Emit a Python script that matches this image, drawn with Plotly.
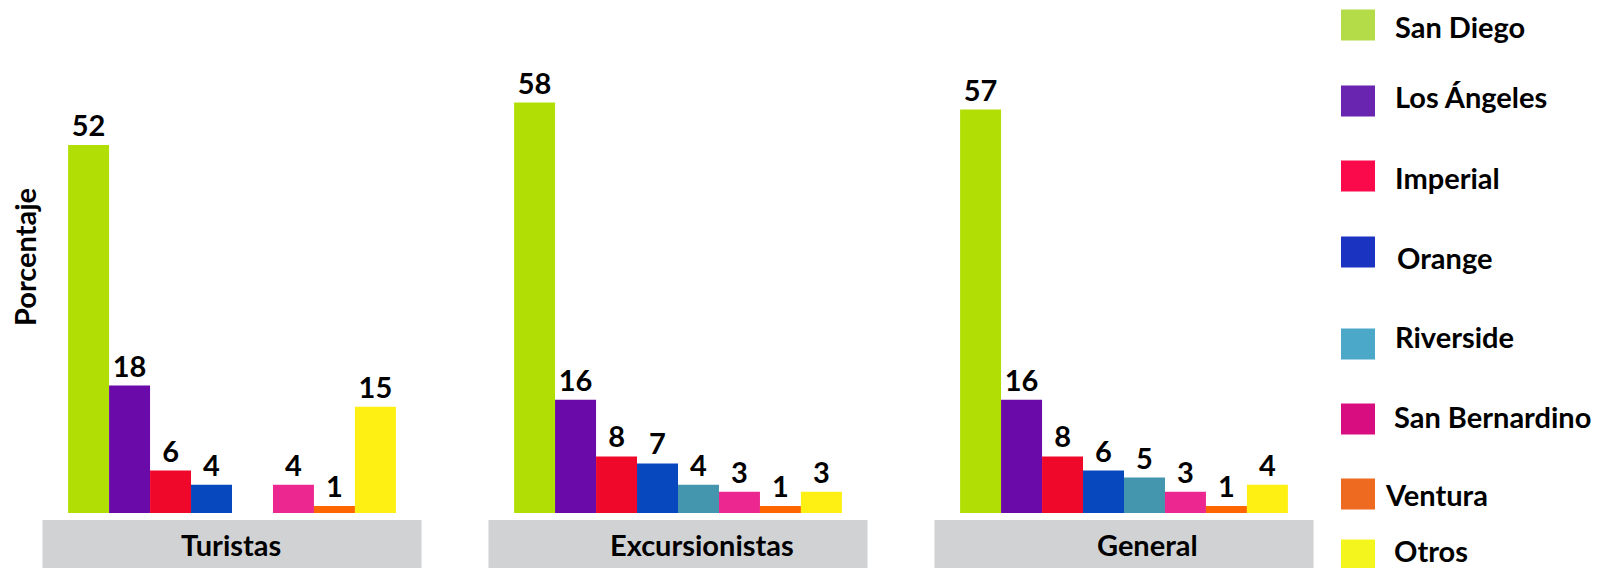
import plotly.graph_objects as go

# ---------------- data ----------------
groups = ['Turistas', 'Excursionistas', 'General']
counties = ['San Diego', 'Los Ángeles', 'Imperial', 'Orange',
            'Riverside', 'San Bernardino', 'Ventura', 'Otros']

san_diego = [52, 58, 57]
los_angeles = [18, 16, 16]
imperial = [6, 8, 8]
orange = [4, 7, 6]
riverside = [None, 4, 5]
san_bernardino = [4, 3, 3]
ventura = [1, 1, 1]
otros = [15, 3, 4]

values = [san_diego, los_angeles, imperial, orange,
          riverside, san_bernardino, ventura, otros]

bar_colors = ['#B1DF05', '#6A0AA8', '#F0082A', '#0748BF',
              '#4396AD', '#EC2890', '#FF6600', '#FFF014']
legend_colors = ['#B3DC48', '#6A25B0', '#FA0A4A', '#1A33C0',
                 '#4BA8C8', '#D80E80', '#EE6A20', '#F5F51E']

FONT = 'Lato'
FS = 29

# ---------------- layout geometry ----------------
# the page body has an 8px margin, so the figure starts at (8, 8)
OFF = 8
W, H = 1600, 560
M_L, M_R, M_T, M_B = 1, 261, 45, 55
PW = W - M_L - M_R
PH = H - M_T - M_B


def px_x(x):
    # page pixel -> paper coordinate
    return (x - OFF - M_L) / PW


def px_y(y):
    return (H - M_B - (y - OFF)) / PH


fig = go.Figure()
for name, vals, col in zip(counties, values, bar_colors):
    fig.add_trace(go.Bar(
        x=groups, y=vals, name=name,
        marker=dict(color=col, line=dict(width=0)),
        text=['' if v is None else str(v) for v in vals],
        textposition='outside',
        textfont=dict(family=FONT, size=FS, color='black', weight='bold'),
        constraintext='none',
        cliponaxis=False,
        showlegend=False,
    ))

shapes = []
annotations = []

# grey bands under each group + labels
label_shift = [-1, 24, 23]
for i, g in enumerate(groups):
    shapes.append(dict(type='rect', xref='x', yref='paper',
                       x0=i - 0.425, x1=i + 0.425,
                       y0=px_y(570), y1=px_y(520),
                       fillcolor='#D1D2D4', line=dict(width=0), layer='below'))
    annotations.append(dict(x=g, xref='x', y=px_y(544), yref='paper',
                            text=g, showarrow=False, xshift=label_shift[i],
                            xanchor='center', yanchor='middle',
                            font=dict(family=FONT, size=FS, color='black', weight='bold')))

# y title
annotations.append(dict(x=px_x(24), y=px_y(257), xref='paper', yref='paper',
                        text='Porcentaje', textangle=-90, showarrow=False,
                        xanchor='center', yanchor='middle',
                        font=dict(family=FONT, size=FS, color='black', weight='bold')))

# hand-made legend (large square swatches, uneven spacing as in the original)
sw_y = [25, 101, 176, 252, 344, 419, 494, 555]
tx_y = [26, 96, 177, 257, 336, 416, 494, 550]
tx_x = [1393, 1393, 1393, 1395, 1393, 1392, 1383, 1392]
for name, col, sy, ty, tx in zip(counties, legend_colors, sw_y, tx_y, tx_x):
    shapes.append(dict(type='rect', xref='paper', yref='paper',
                       x0=px_x(1341), x1=px_x(1375),
                       y0=px_y(sy + 15.5), y1=px_y(sy - 15.5),
                       fillcolor=col, line=dict(width=0)))
    annotations.append(dict(x=px_x(tx), y=px_y(ty), xref='paper', yref='paper',
                            text=name, showarrow=False,
                            xanchor='left', yanchor='middle',
                            font=dict(family=FONT, size=FS, color='black', weight='bold')))

fig.update_layout(
    width=W, height=H,
    margin=dict(l=M_L, r=M_R, t=M_T, b=M_B, pad=0),
    barmode='group', bargap=0.265, bargroupgap=0,
    plot_bgcolor='white', paper_bgcolor='white',
    xaxis=dict(showticklabels=False, showgrid=False, zeroline=False,
               showline=False, ticks='', range=[-0.5, 2.5]),
    yaxis=dict(range=[0, 65], showticklabels=False, showgrid=False,
               zeroline=False, showline=False, ticks=''),
    shapes=shapes,
    annotations=annotations,
    font=dict(family=FONT),
)

fig.write_html("out.html")
